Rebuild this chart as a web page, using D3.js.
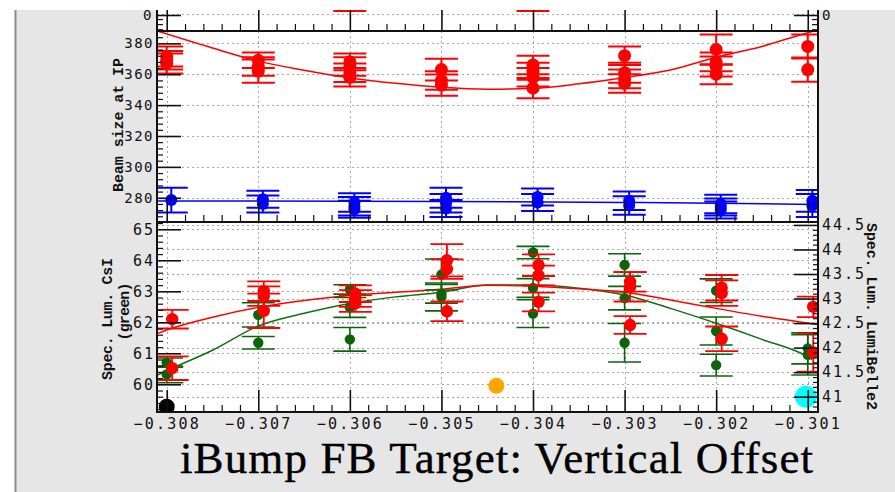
<!DOCTYPE html>
<html>
<head>
<meta charset="utf-8">
<script src="https://cdn.jsdelivr.net/npm/d3@7"></script>
<style>
body { margin: 0; background: #fff; }
.tick text { font-family: "DejaVu Sans Mono", monospace; fill: #111; }
.ytitle { font-family: "Liberation Mono", "Courier New", monospace; font-weight: bold; font-size: 15px; fill: #111; }
</style>
</head>
<body>
<svg id="chart" width="895" height="492"></svg>
<script>
// ---- data ----
var xTicks = [-0.308, -0.307, -0.306, -0.305, -0.304, -0.303, -0.302, -0.301];
var topTicks = [0];
var beamTicks = [280, 300, 320, 340, 360, 380];
var csiTicks = [60, 61, 62, 63, 64, 65];
var lbTicks = [41, 41.5, 42, 42.5, 43, 43.5, 44, 44.5];

// beam size at IP, [x, value, error]
var beamRed = [
  [-0.308, 371.5, 6.5], [-0.308, 369, 6], [-0.308, 367, 6.5],
  [-0.307, 369, 5], [-0.307, 365, 6], [-0.307, 362, 7.5],
  [-0.306, 368, 5.5], [-0.306, 365, 6], [-0.306, 361, 6], [-0.306, 358, 6],
  [-0.305, 363, 7], [-0.305, 356, 6], [-0.305, 353, 6.9],
  [-0.304, 366, 6], [-0.304, 362, 5.5], [-0.304, 358, 6], [-0.304, 351, 6.6],
  [-0.303, 372, 6], [-0.303, 361, 6.5], [-0.303, 357, 6], [-0.303, 354, 6],
  [-0.302, 376, 9.8], [-0.302, 368, 6], [-0.302, 365, 6.5], [-0.302, 360, 6.5],
  [-0.301, 378, 7.8], [-0.301, 363, 7.8]
];
var beamBlue = [
  [-0.30795, 278.5, 8],
  [-0.30695, 279, 5.5], [-0.30695, 276, 5.5],
  [-0.30595, 277, 6], [-0.30595, 274.5, 6], [-0.30595, 272.5, 5.5],
  [-0.30495, 280, 6.5], [-0.30495, 276.5, 6], [-0.30495, 273, 5.5],
  [-0.30395, 280.5, 5.5], [-0.30395, 277, 5.5],
  [-0.30295, 278, 6], [-0.30295, 275, 6],
  [-0.30195, 276, 6], [-0.30195, 274, 5.5], [-0.30195, 272, 5.5],
  [-0.30095, 278, 7], [-0.30095, 275, 7.5]
];
var beamRedFit = [
  [-0.3081, 388], [-0.3075, 377], [-0.307, 368.5], [-0.3065, 362.6], [-0.306, 357.6],
  [-0.3055, 354.1], [-0.305, 351.5], [-0.3045, 350.3], [-0.304, 350.9], [-0.3035, 353.8],
  [-0.303, 357.9], [-0.3025, 362.8], [-0.302, 371], [-0.3015, 378], [-0.301, 386.9], [-0.3009, 388.5]
];
var beamBlueFit = [[-0.3081, 277.9], [-0.305, 277.6], [-0.303, 277.0], [-0.302, 276.4], [-0.3009, 275.7]];

// points above the small top pad, only their lower caps show
var topRed = [[-0.306, 1.5, 1.38], [-0.304, 1.5, 1.38]];

// Spec. Lum. CsI (green, left axis)
var csiGreen = [
  [-0.308, 60.70, 0.15], [-0.308, 60.32, 0.27],
  [-0.307, 62.24, 0.39], [-0.307, 61.34, 0.2],
  [-0.306, 63.06, 0.15], [-0.306, 62.48, 0.32], [-0.306, 61.45, 0.38],
  [-0.305, 63.54, 0.5], [-0.305, 62.92, 0.3], [-0.305, 62.82, 0.45],
  [-0.304, 64.25, 0.2], [-0.304, 63.11, 0.3], [-0.304, 62.28, 0.45],
  [-0.303, 63.85, 0.36], [-0.303, 62.78, 0.38], [-0.303, 61.34, 0.62],
  [-0.302, 63.02, 0.38], [-0.302, 61.72, 0.45], [-0.302, 60.62, 0.35],
  [-0.301, 61.16, 0.5], [-0.301, 60.95, 0.65]
];
// Spec. Lum. LumiBelle2 (red, right axis)
var lbRed = [
  [-0.30794, 42.58, 0.19], [-0.30794, 41.58, 0.24],
  [-0.30694, 43.15, 0.2], [-0.30694, 43.05, 0.2], [-0.30694, 42.75, 0.35],
  [-0.30594, 43.1, 0.17], [-0.30594, 43.0, 0.17], [-0.30594, 42.9, 0.17],
  [-0.30494, 43.78, 0.33], [-0.30494, 43.6, 0.2], [-0.30494, 42.74, 0.2],
  [-0.30394, 43.68, 0.22], [-0.30394, 43.47, 0.2], [-0.30394, 42.93, 0.19],
  [-0.30294, 43.34, 0.2], [-0.30294, 43.24, 0.3], [-0.30294, 42.46, 0.18],
  [-0.30194, 43.22, 0.26], [-0.30194, 43.11, 0.26], [-0.30194, 42.18, 0.25],
  [-0.30094, 42.83, 0.21], [-0.30094, 41.9, 0.39]
];
var csiFit = [
  [-0.3081, 60.3], [-0.308, 60.44], [-0.3075, 61.1], [-0.307, 61.88], [-0.3065, 62.29],
  [-0.306, 62.61], [-0.3055, 62.82], [-0.305, 62.97], [-0.3045, 63.2], [-0.304, 63.2],
  [-0.3035, 63.1], [-0.303, 62.88], [-0.3025, 62.45], [-0.302, 61.97], [-0.3015, 61.45],
  [-0.301, 60.89], [-0.30095, 60.8]
];
var lbFit = [
  [-0.3081, 42.29], [-0.308, 42.36], [-0.3075, 42.62], [-0.307, 42.82], [-0.3065, 42.96],
  [-0.306, 43.06], [-0.3055, 43.13], [-0.305, 43.19], [-0.3045, 43.27], [-0.304, 43.25],
  [-0.3035, 43.2], [-0.303, 43.13], [-0.3025, 42.97], [-0.302, 42.8], [-0.3015, 42.64],
  [-0.301, 42.5], [-0.3009, 42.47]
];
// single markers: [x, value]
var blackMark = [[-0.308, 59.28]];
var orangeMark = [[-0.3044, 59.95]];
var cyanMark = [[-0.30102, 41.0]];

// ---- layout ----
var svg = d3.select("#chart");
var L = 157, R = 818, T = 10, B1 = 31, B2 = 222, B3 = 412;

var x = d3.scaleLinear().domain([-0.308106, -0.300888]).range([L, R]);
var yTop = d3.scaleLinear().domain([-0.67, 0.157]).range([B1, T]);
var yBeam = d3.scaleLinear().domain([264.3, 388]).range([B2, B1]);
var yCsi = d3.scaleLinear().domain([59.107, 65.235]).range([B3, B2]);
var yLb = d3.scaleLinear().domain([40.688, 44.56]).range([B3, B2]);

// background
svg.append("rect").attr("x", 16).attr("y", 10).attr("width", 879).attr("height", 482).attr("fill", "#e6e6e6");
svg.append("line").attr("x1", 15.5).attr("x2", 15.5).attr("y1", 10).attr("y2", 492).attr("stroke", "#8a8a8a").attr("stroke-width", 2);
svg.append("rect").attr("x", L).attr("y", T).attr("width", R - L).attr("height", B3 - T).attr("fill", "#fff");

function clip(id, x0, y0, x1, y1) {
  svg.append("clipPath").attr("id", id).append("rect")
    .attr("x", x0).attr("y", y0).attr("width", x1 - x0).attr("height", y1 - y0);
}
clip("cTop", L, T, R, B1); clip("cMid", L, B1, R, B2); clip("cLow", L, B2, R, B3);
clip("cAll", 0, T, 895, 492);

// grid
function hgrid(vals, y) {
  svg.append("g").selectAll("line").data(vals).enter().append("line")
    .attr("x1", L).attr("x2", R).attr("y1", function(d) { return Math.round(y(d)) + 0.5; })
    .attr("y2", function(d) { return Math.round(y(d)) + 0.5; })
    .attr("stroke", "#a8a8a8").attr("stroke-dasharray", "2,3");
}
function vgrid(y0, y1) {
  svg.append("g").selectAll("line").data(xTicks).enter().append("line")
    .attr("x1", function(d) { return Math.round(x(d)) + 0.5; }).attr("x2", function(d) { return Math.round(x(d)) + 0.5; })
    .attr("y1", y0).attr("y2", y1)
    .attr("stroke", "#a8a8a8").attr("stroke-dasharray", "2,3");
}
hgrid(topTicks, yTop);
hgrid(beamTicks, yBeam); vgrid(B1, B2);
hgrid(csiTicks, yCsi); hgrid(lbTicks, yLb); vgrid(B2, B3);

// fits
function fit(clipId, data, y, color) {
  svg.append("path").datum(data).attr("clip-path", "url(#" + clipId + ")")
    .attr("fill", "none").attr("stroke", color).attr("stroke-width", 1.5)
    .attr("d", d3.line().x(function(d) { return x(d[0]); }).y(function(d) { return y(d[1]); }).curve(d3.curveMonotoneX));
}
fit("cMid", beamRedFit, yBeam, "#ff0000");
fit("cMid", beamBlueFit, yBeam, "#0000ff");
fit("cLow", csiFit, yCsi, "#107010");
fit("cLow", lbFit, yLb, "#ff0000");

// points with error bars
function points(clipId, data, y, color, r, lw) {
  var g = svg.append("g").attr("clip-path", "url(#" + clipId + ")");
  var cw = 16.5;
  g.selectAll("line.v").data(data).enter().append("line")
    .attr("x1", function(d) { return x(d[0]); }).attr("x2", function(d) { return x(d[0]); })
    .attr("y1", function(d) { return y(d[1] - d[2]); }).attr("y2", function(d) { return y(d[1] + d[2]); })
    .attr("stroke", color).attr("stroke-width", lw);
  var caps = [];
  data.forEach(function(d) { caps.push([d[0], d[1] - d[2]]); caps.push([d[0], d[1] + d[2]]); });
  g.selectAll("line.c").data(caps).enter().append("line")
    .attr("x1", function(d) { return x(d[0]) - cw; }).attr("x2", function(d) { return x(d[0]) + cw; })
    .attr("y1", function(d) { return y(d[1]); }).attr("y2", function(d) { return y(d[1]); })
    .attr("stroke", color).attr("stroke-width", lw);
  g.selectAll("circle").data(data).enter().append("circle")
    .attr("cx", function(d) { return x(d[0]); }).attr("cy", function(d) { return y(d[1]); })
    .attr("r", r).attr("fill", color);
}
points("cTop", topRed, yTop, "#ff0000", 6.5, 2);
points("cMid", beamRed, yBeam, "#ff0000", 6.5, 2);
points("cMid", beamBlue, yBeam, "#0000ff", 6, 2);
points("cLow", csiGreen, yCsi, "#0b640b", 5.2, 1.6);
points("cLow", lbRed, yLb, "#ff0000", 6.2, 1.8);

function marks(data, y, color, r) {
  svg.append("g").attr("clip-path", "url(#cLow)").selectAll("circle").data(data).enter().append("circle")
    .attr("cx", function(d) { return x(d[0]); }).attr("cy", function(d) { return y(d[1]); })
    .attr("r", r).attr("fill", color);
}
marks(blackMark, yCsi, "#000", 8);
marks(orangeMark, yCsi, "#ffa500", 8);
marks(cyanMark, yLb, "#00ffff", 11);

// axes (inside one untransformed group so the clip stays in page coordinates)
var axesG = svg.append("g").attr("clip-path", "url(#cAll)");
function minorOf(lo, step, n, majors) {
  return d3.range(n).map(function(i) { return +(lo + i * step).toFixed(6); })
    .filter(function(v) { return majors.every(function(m) { return Math.abs(m - v) > step / 10; }); });
}
function axis(gen, pos, vals, size, fmt, pad, fs, ls, lw) {
  var a = gen.tickValues(vals).tickSize(size).tickPadding(pad).tickFormat(fmt);
  var g = axesG.append("g").attr("transform", pos).call(a);
  g.select(".domain").remove();
  g.selectAll(".tick line").attr("stroke", "#111").attr("stroke-width", lw);
  g.selectAll(".tick text").style("font-size", fs + "px").style("letter-spacing", ls + "px");
  return g;
}
var none = function() { return ""; };
var xMinor = minorOf(-0.3080, 0.0002, 36, xTicks);

// top pad
axis(d3.axisLeft(yTop), "translate(" + L + ",1)", topTicks, -24, d3.format("d"), 4, 14, 1.5, 1.6);
axis(d3.axisLeft(yTop), "translate(" + L + ",0)", [-0.6, -0.4, -0.2], -6, none, 0, 14, 0, 1.2);
axis(d3.axisRight(yTop), "translate(" + R + ",1)", topTicks, -24, d3.format("d"), 4, 14, 1.5, 1.6);
axis(d3.axisRight(yTop), "translate(" + R + ",0)", [-0.6, -0.4, -0.2], -6, none, 0, 14, 0, 1.2);
axis(d3.axisBottom(x), "translate(0," + B1 + ")", xTicks, -(B1 - T), none, 0, 14, 0, 1.6);
axis(d3.axisBottom(x), "translate(0," + B1 + ")", xMinor, -7, none, 0, 14, 0, 1.2);

// middle pad
axis(d3.axisLeft(yBeam), "translate(" + L + ",0)", beamTicks, -24, d3.format("d"), 3, 14, 1.5, 1.6);
axis(d3.axisLeft(yBeam), "translate(" + L + ",0)", minorOf(268, 4, 31, beamTicks), -6, none, 0, 14, 0, 1.2);
axis(d3.axisBottom(x), "translate(0," + B2 + ")", xTicks, -20, none, 0, 14, 0, 1.6);
axis(d3.axisBottom(x), "translate(0," + B2 + ")", xMinor, -7, none, 0, 14, 0, 1.2);

// lower pad
axis(d3.axisLeft(yCsi), "translate(" + L + ",0)", csiTicks, -24, d3.format("d"), 2, 15, 2, 1.6);
axis(d3.axisLeft(yCsi), "translate(" + L + ",0)", minorOf(59.2, 0.2, 31, csiTicks), -6, none, 0, 14, 0, 1.2);
axis(d3.axisRight(yLb), "translate(" + R + ",0)", lbTicks, -24, function(d) { return d % 1 === 0 ? d3.format("d")(d) : d3.format(".1f")(d); }, 4, 15, 2, 1.6);
axis(d3.axisRight(yLb), "translate(" + R + ",0)", minorOf(40.7, 0.1, 39, lbTicks), -5, none, 0, 14, 0, 1.2);
axis(d3.axisBottom(x), "translate(0," + B3 + ")", xTicks, -22, d3.format(".3f"), 6, 15, 2.2, 1.6);
axis(d3.axisBottom(x), "translate(0," + B3 + ")", xMinor, -7, none, 0, 14, 0, 1.2);

// frame
var fr = svg.append("g").attr("stroke", "#111").attr("stroke-width", 2);
fr.append("line").attr("x1", L).attr("x2", L).attr("y1", T).attr("y2", B3 + 1);
fr.append("line").attr("x1", R).attr("x2", R).attr("y1", T).attr("y2", B3 + 1);
[B1, B2, B3].forEach(function(yy) {
  fr.append("line").attr("x1", L).attr("x2", R + 1).attr("y1", yy).attr("y2", yy);
});

// titles
function ytitle(tx, ty, rot, len, s) {
  svg.append("text").attr("class", "ytitle").attr("transform", "translate(" + tx + "," + ty + ") rotate(" + rot + ")")
    .attr("text-anchor", "middle").attr("textLength", len).attr("lengthAdjust", "spacing").text(s);
}
ytitle(122.5, 125, -90, 134, "Beam size at IP");
ytitle(112, 319, -90, 122, "Spec. Lum. CsI");
ytitle(129, 311.5, -90, 58, "(green)");
ytitle(867, 316.5, 90, 187, "Spec. Lum. LumiBelle2");

svg.append("text").attr("x", 496.5).attr("y", 473).attr("text-anchor", "middle")
  .attr("textLength", 633).attr("lengthAdjust", "spacing")
  .style("font-family", "'Liberation Serif', serif").style("font-size", "45px")
  .attr("fill", "#000").attr("stroke", "#000").attr("stroke-width", 0.4)
  .text("iBump FB Target: Vertical Offset");
</script>
</body>
</html>
